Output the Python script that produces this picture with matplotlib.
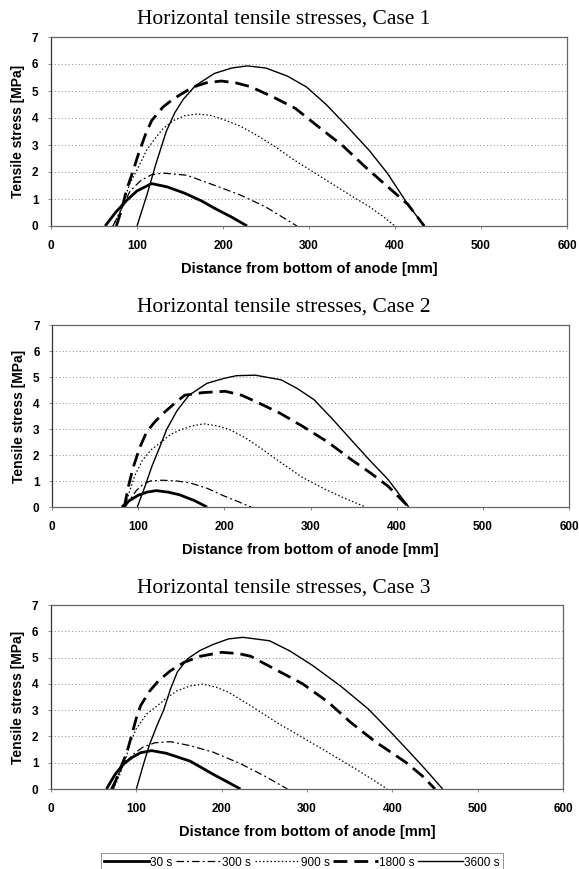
import matplotlib
matplotlib.use("Agg")
import matplotlib.pyplot as plt
from matplotlib.lines import Line2D

# ---------------- data ----------------
series_labels = ["30 s", "300 s", "900 s", "1800 s", "3600 s"]
case_titles = ["Horizontal tensile stresses, Case 1",
               "Horizontal tensile stresses, Case 2",
               "Horizontal tensile stresses, Case 3"]
x_ticks = [0, 100, 200, 300, 400, 500, 600]
y_ticks = [0, 1, 2, 3, 4, 5, 6, 7]

# Case 1
c1_30_x = [63, 75, 88, 100, 117, 135, 155, 175, 190, 210, 228]
c1_30_y = [0, 0.5, 0.95, 1.3, 1.57, 1.45, 1.22, 0.93, 0.66, 0.33, 0]
c1_300_x = [72, 80, 92, 105, 117, 130, 158, 195, 220, 250, 286]
c1_300_y = [0, 0.5, 1.3, 1.7, 1.9, 1.96, 1.88, 1.45, 1.15, 0.7, 0]
c1_900_x = [72, 80, 92, 102, 111, 120, 130, 142, 155, 170, 185, 200, 220, 240, 260, 280, 305, 330, 350, 370, 385, 400]
c1_900_y = [0, 0.5, 1.6, 2.2, 2.8, 3.2, 3.6, 3.9, 4.08, 4.15, 4.1, 3.95, 3.7, 3.35, 2.95, 2.5, 2.0, 1.5, 1.1, 0.72, 0.38, 0]
c1_1800_x = [76, 82, 88, 95, 102, 110, 117, 130, 142, 164, 180, 198, 215, 232, 260, 284, 310, 340, 365, 391, 415, 434]
c1_1800_y = [0, 0.6, 1.35, 2.0, 2.7, 3.4, 3.9, 4.4, 4.7, 5.13, 5.3, 5.37, 5.3, 5.16, 4.75, 4.36, 3.7, 2.95, 2.2, 1.47, 0.8, 0]
c1_3600_x = [100, 112, 122, 134, 144, 154, 168, 190, 210, 228, 250, 275, 297, 320, 344, 370, 391, 415, 434]
c1_3600_y = [0, 1.2, 2.3, 3.5, 4.2, 4.7, 5.2, 5.65, 5.85, 5.93, 5.85, 5.55, 5.15, 4.5, 3.7, 2.8, 1.96, 0.8, 0]

# Case 2
c2_30_x = [81, 90, 100, 110, 121, 135, 148, 165, 180]
c2_30_y = [0, 0.25, 0.45, 0.57, 0.63, 0.57, 0.47, 0.25, 0]
c2_300_x = [85, 92, 98, 106, 114, 128, 145, 160, 180, 200, 215, 231]
c2_300_y = [0, 0.35, 0.64, 0.88, 1.0, 1.03, 1.0, 0.93, 0.72, 0.42, 0.22, 0]
c2_900_x = [84, 90, 96, 105, 115, 125, 138, 150, 163, 176, 192, 206, 225, 245, 266, 290, 317, 340, 364]
c2_900_y = [0, 0.6, 1.2, 1.8, 2.2, 2.45, 2.8, 2.98, 3.12, 3.2, 3.12, 2.98, 2.65, 2.2, 1.7, 1.15, 0.68, 0.33, 0]
c2_1800_x = [84, 88, 94, 102, 110, 120, 129, 141, 154, 175, 201, 220, 240, 265, 291, 320, 347, 370, 390, 414]
c2_1800_y = [0, 0.7, 1.5, 2.3, 2.9, 3.3, 3.6, 3.95, 4.3, 4.4, 4.45, 4.3, 4.0, 3.6, 3.1, 2.5, 1.83, 1.3, 0.8, 0]
c2_3600_x = [99, 108, 116, 125, 133, 145, 159, 180, 200, 214, 236, 266, 285, 304, 325, 347, 370, 390, 414]
c2_3600_y = [0, 0.8, 1.57, 2.3, 2.98, 3.7, 4.3, 4.76, 4.95, 5.05, 5.07, 4.89, 4.55, 4.13, 3.4, 2.59, 1.75, 1.06, 0]

# Case 3
c3_30_x = [65, 75, 85, 95, 105, 118, 135, 150, 163, 176, 190, 205, 222]
c3_30_y = [0, 0.55, 0.95, 1.2, 1.38, 1.46, 1.36, 1.2, 1.06, 0.82, 0.56, 0.3, 0]
c3_300_x = [70, 78, 87, 96, 108, 122, 140, 163, 190, 221, 250, 277]
c3_300_y = [0, 0.5, 1.0, 1.31, 1.6, 1.76, 1.8, 1.65, 1.4, 0.98, 0.5, 0]
c3_900_x = [73, 80, 87, 93, 100, 112, 122, 135, 148, 163, 178, 193, 208, 235, 264, 290, 321, 350, 375, 394]
c3_900_y = [0, 0.5, 1.1, 1.76, 2.3, 2.85, 3.1, 3.45, 3.74, 3.92, 3.99, 3.88, 3.68, 3.15, 2.54, 2.05, 1.46, 0.9, 0.4, 0]
c3_1800_x = [72, 78, 84, 89, 95, 100, 105, 115, 126, 140, 156, 175, 200, 220, 234, 260, 295, 325, 351, 380, 416, 435, 450]
c3_1800_y = [0, 0.5, 1.0, 1.4, 2.1, 2.7, 3.17, 3.7, 4.12, 4.5, 4.82, 5.05, 5.2, 5.15, 5.05, 4.6, 4.0, 3.3, 2.54, 1.8, 1.01, 0.5, 0]
c3_3600_x = [100, 108, 115, 124, 132, 140, 148, 160, 174, 190, 208, 225, 256, 280, 307, 340, 372, 400, 424, 440, 459]
c3_3600_y = [0, 0.9, 1.65, 2.4, 3.0, 3.8, 4.45, 4.95, 5.26, 5.5, 5.71, 5.77, 5.64, 5.25, 4.69, 3.9, 3.04, 2.1, 1.27, 0.7, 0]

cases = [
    [(c1_30_x, c1_30_y), (c1_300_x, c1_300_y), (c1_900_x, c1_900_y), (c1_1800_x, c1_1800_y), (c1_3600_x, c1_3600_y)],
    [(c2_30_x, c2_30_y), (c2_300_x, c2_300_y), (c2_900_x, c2_900_y), (c2_1800_x, c2_1800_y), (c2_3600_x, c2_3600_y)],
    [(c3_30_x, c3_30_y), (c3_300_x, c3_300_y), (c3_900_x, c3_900_y), (c3_1800_x, c3_1800_y), (c3_3600_x, c3_3600_y)],
]

# ---------------- styles ----------------
styles = [
    dict(color="black", lw=2.0, ls="-"),
    dict(color="black", lw=0.9, ls=(0, (6, 2.5, 1.5, 2.5))),
    dict(color="black", lw=0.9, ls=(0, (1.2, 1.8))),
    dict(color="black", lw=2.0, ls=(0, (5, 2.5))),
    dict(color="black", lw=1.0, ls="-"),
]

W, H = 579, 869
fig = plt.figure(figsize=(W / 100, H / 100), dpi=100)

# axes boxes in pixels: left, right, top, bottom
boxes = [(51, 567, 37, 226), (52, 569, 325, 507), (51, 563, 605, 789)]
title_y = [19, 307, 588]
title_x = 284

sans = ["Liberation Sans", "DejaVu Sans"]
serif = ["Liberation Serif", "DejaVu Serif"]

for i, (l, r, t, b) in enumerate(boxes):
    ax = fig.add_axes([l / W, 1 - b / H, (r - l) / W, (b - t) / H])
    for (xs, ys), st in zip(cases[i], styles):
        ax.plot(xs, ys, solid_capstyle="butt", dash_capstyle="butt", **st)
    ax.set_xlim(0, 600)
    ax.set_ylim(0, 7)
    ax.set_xticks(x_ticks)
    ax.set_yticks(y_ticks)
    ax.set_xticklabels([str(v) for v in x_ticks], fontfamily=sans, fontsize=8.5, fontweight="bold")
    ax.set_yticklabels([str(v) for v in y_ticks], fontfamily=sans, fontsize=8.5, fontweight="bold")
    ax.tick_params(axis="both", length=2, width=0.6, color="#777777")
    ax.tick_params(axis="y", pad=7)
    ax.tick_params(axis="x", pad=8)
    for y in y_ticks[1:-1]:
        ax.axhline(y, color="#888888", lw=0.7, ls=(0, (1, 2.5)), zorder=0)
    for s in ax.spines.values():
        s.set_color("#666666")
        s.set_linewidth(0.9)
    ax.spines["left"].set_color("#333333")
    ax.set_xlabel("Distance from bottom of anode [mm]", fontfamily=sans,
                  fontsize=10.5, fontweight="bold", labelpad=7)
    ax.set_ylabel("Tensile stress [MPa]", fontfamily=sans, fontsize=10,
                  fontweight="bold", labelpad=5)
    fig.text(title_x / W, 1 - title_y[i] / H, case_titles[i], fontfamily=serif,
             fontsize=15.5, ha="center", va="center")

handles = [Line2D([0], [0], **st) for st in styles]
leg = fig.legend(handles, series_labels, loc="upper center",
                 bbox_to_anchor=(302 / W, 1 - 853 / H), ncol=5,
                 prop={"family": sans, "size": 8.5}, frameon=True, fancybox=False,
                 handlelength=3.8, handletextpad=0.1, columnspacing=0.3,
                 borderpad=0.3, borderaxespad=0)
leg.get_frame().set_edgecolor("#777777")
leg.get_frame().set_linewidth(0.7)

fig.savefig("out.png", dpi=100)
